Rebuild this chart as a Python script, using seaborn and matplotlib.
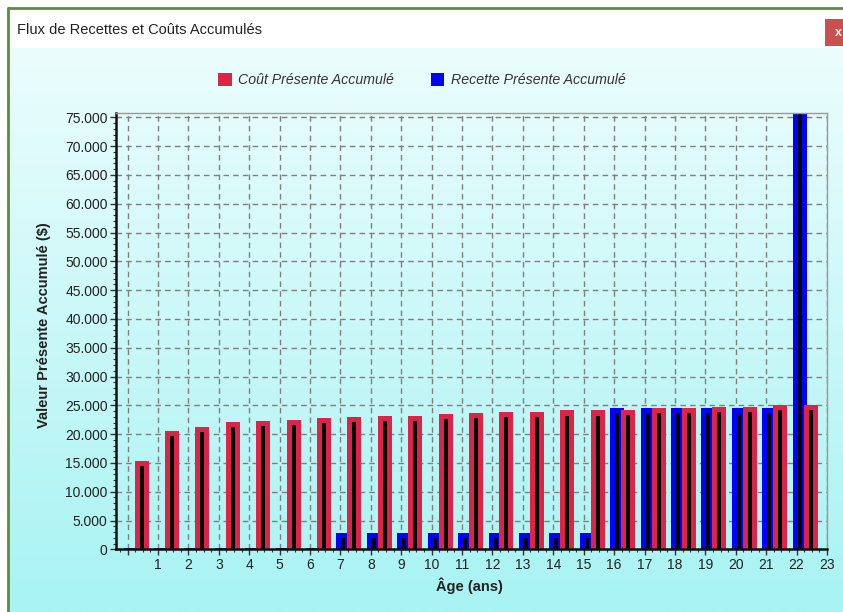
import numpy as np
import pandas as pd
import matplotlib
matplotlib.use("Agg")
import matplotlib.pyplot as plt
from matplotlib.patches import Patch, Rectangle
from matplotlib.ticker import MultipleLocator, FuncFormatter, FixedLocator
import seaborn as sns

# ---- data -------------------------------------------------------------
periods = list(range(23))
tick_labels = ["1", "2", "3", "4", "5", "6", "7", "8", "9", "10", "11", "12",
               "13", "14", "15", "16", "17", "18", "19", "20", "21", "22", "23"]
cost_accum = [15300, 20500, 21200, 22050, 22350, 22500, 22750, 23000, 23200,
              23200, 23450, 23700, 23870, 23870, 24100, 24100, 24270, 24560,
              24560, 24700, 24700, 24970, 24970]
revenue_accum = [300, 300, 300, 300, 300, 300, 300, 2900, 2900, 2900, 2900,
                 2900, 2900, 2900, 2900, 2900, 24560, 24560, 24560, 24560,
                 24560, 24560, 78000]
series_names = ["Coût Présente Accumulé", "Recette Présente Accumulé"]

COST_COLOR = "#dc2448"
REV_COLOR = "#0000ff"

# ---- style ------------------------------------------------------------
sns.set_style("ticks")
plt.rcParams["font.family"] = ["Liberation Sans", "DejaVu Sans"]

W, H = 843, 612
fig = plt.figure(figsize=(W / 100, H / 100), dpi=100)
fig.patch.set_facecolor("white")

# window frame: title bar, gradient body, green border, close button
bg = fig.add_axes([0, 0, 1, 1], zorder=-10)
bg.set_xlim(0, W)
bg.set_ylim(H, 0)
bg.axis("off")
grad = np.linspace(0, 1, 256).reshape(-1, 1)
top_c = np.array([236, 253, 253]) / 255
bot_c = np.array([168, 243, 243]) / 255
img = top_c[None, None, :] * (1 - grad[:, :, None]) + bot_c[None, None, :] * grad[:, :, None]
bg.imshow(img, extent=[9, W, H, 48], aspect="auto", zorder=0)
bg.add_patch(Rectangle((9, 9), W, 39, facecolor="white", edgecolor="none", zorder=1))
bg.plot([8, W], [8, 8], color="#5d8c3c", lw=2, zorder=2)
bg.plot([8, 8], [8, H], color="#5d8c3c", lw=2, zorder=2)
bg.add_patch(Rectangle((825, 19), 20, 27, facecolor="#c9504e", edgecolor="none", zorder=2))
bg.text(838, 32.5, "x", color="white", fontsize=9, fontweight="bold",
        ha="center", va="center", zorder=3)
bg.text(17, 30, "Flux de Recettes et Coûts Accumulés", fontsize=10.5,
        color="#222222", ha="left", va="center", zorder=3)

# ---- chart ------------------------------------------------------------
left, right, top, bottom = 116, 827, 113.3, 549.3
ax = fig.add_axes([left / W, 1 - bottom / H, (right - left) / W, (bottom - top) / H])
ax.set_facecolor("none")

df = pd.DataFrame({"period": periods, "cost": cost_accum, "revenue": revenue_accum})
y_max = 75700
shade = 870  # dark inner stripe starts slightly below each bar top

def stripe(v):
    v = np.asarray(v, dtype=float)
    return np.where(v > 2 * shade, v - shade, v)

df["rev_x"] = df["period"] + 0.10
df["cost_x"] = df["period"] + 0.46
df["rev_in"] = stripe(df["revenue"])
df["cost_in"] = stripe(df["cost"])

common = dict(native_scale=True, orient="x", errorbar=None, linewidth=0, ax=ax)
sns.barplot(data=df, x="rev_x", y="revenue", color=REV_COLOR, width=0.46,
            saturation=1, **common)
sns.barplot(data=df, x="rev_x", y="rev_in", color="black", width=0.13,
            saturation=1, **common)
sns.barplot(data=df, x="cost_x", y="cost", color=COST_COLOR, width=0.46,
            saturation=1, **common)
sns.barplot(data=df, x="cost_x", y="cost_in", color="black", width=0.13,
            saturation=1, **common)

ax.set_xlim(-0.38, 23.0)
ax.set_ylim(0, y_max)

ax.xaxis.set_major_locator(FixedLocator(list(range(0, 24))))
ax.set_xticklabels([""] + tick_labels)
ax.xaxis.set_minor_locator(MultipleLocator(0.25))
ax.yaxis.set_major_locator(MultipleLocator(5000))
ax.yaxis.set_minor_locator(MultipleLocator(1000))
ax.yaxis.set_major_formatter(FuncFormatter(lambda v, p: f"{int(round(v)):,}".replace(",", ".")))

ax.grid(True, which="major", linestyle=(0, (4, 3)), color="#7f7f7f", linewidth=1)
ax.set_axisbelow(True)

ax.tick_params(axis="both", which="major", direction="out", length=4.5, width=1,
               color="#333333", labelsize=10, labelcolor="#222222", pad=1.5)
ax.tick_params(axis="both", which="minor", direction="out", length=2.5, width=0.8,
               color="#333333")

for s in ("left", "bottom"):
    ax.spines[s].set_color("#111111")
    ax.spines[s].set_linewidth(1.8)
for s in ("top", "right"):
    ax.spines[s].set_color("#9a9a9a")
    ax.spines[s].set_linewidth(1.0)

ax.set_xlabel("Âge (ans)", fontsize=10.5, fontweight="bold", color="#222222")
ax.set_ylabel("Valeur Présente Accumulé ($)", fontsize=10.5, fontweight="bold",
              color="#222222")
ax.xaxis.set_label_coords(0.5 - 2.5 / 711, (bottom - 577) / (bottom - top))
ax.yaxis.set_label_coords((51 - left) / (right - left), 0.5 + 6 / 436)
ax.yaxis.label.set_va("bottom")
ax.xaxis.label.set_va("top")

handles = [Patch(facecolor=COST_COLOR, edgecolor="none"),
           Patch(facecolor=REV_COLOR, edgecolor="none")]
fig.legend(handles, series_names, loc="center", bbox_to_anchor=(422 / W, 1 - 80 / H),
           ncol=2, frameon=False, handlelength=0.95, handleheight=1.05,
           handletextpad=0.45, columnspacing=2.6,
           prop={"style": "italic", "size": 10.2}, labelcolor="#333333")

fig.savefig("out.png", dpi=100)
